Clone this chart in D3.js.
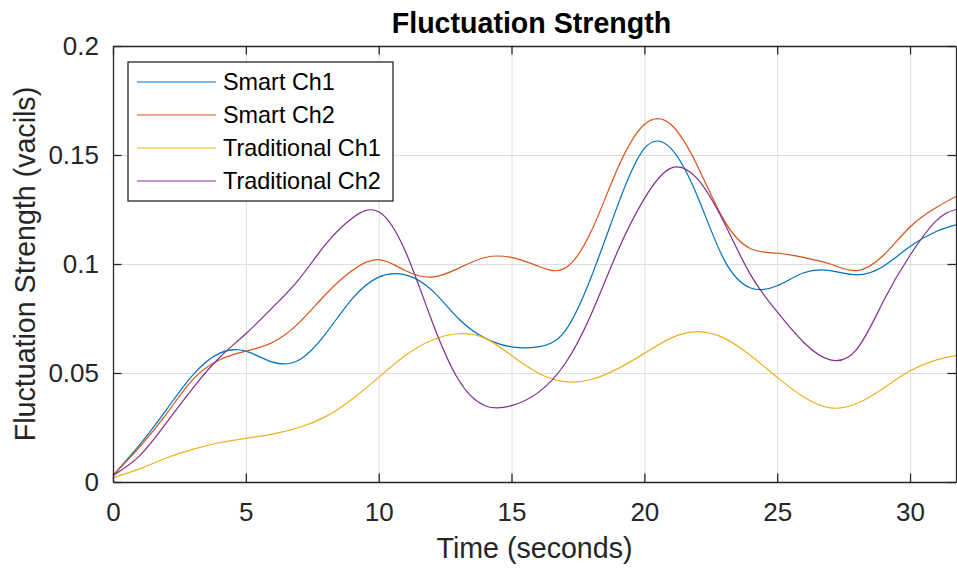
<!DOCTYPE html>
<html><head><meta charset="utf-8">
<script src="https://cdn.jsdelivr.net/npm/d3@7"></script>
<style>
body{margin:0;background:#fff;}
text{font-family:"Liberation Sans", Arial, Helvetica, sans-serif;}
</style>
</head><body>
<svg id="chart" width="957" height="571"></svg>
<script>
// ---- data ----
const time = [0,1,2,3,4,5,6,7,8,9,10,11,12,13,14,15,16,17,18,19,20,21,22,23,24,25,26,27,28,29,30,31,31.73];
const smartCh1 = [0.003,0.017,0.033,0.049,0.059,0.060,0.055,0.056,0.068,0.084,0.094,0.095,0.088,0.075,0.066,0.062,0.062,0.069,0.094,0.127,0.153,0.153,0.131,0.102,0.089,0.090,0.096,0.097,0.095,0.099,0.108,0.115,0.118];
const smartCh2 = [0.003,0.016,0.031,0.047,0.056,0.060,0.064,0.073,0.086,0.097,0.102,0.097,0.094,0.098,0.103,0.103,0.099,0.098,0.115,0.144,0.164,0.164,0.145,0.120,0.107,0.105,0.103,0.100,0.097,0.104,0.117,0.126,0.131];
const tradCh1  = [0.002,0.006,0.011,0.015,0.018,0.020,0.022,0.025,0.030,0.038,0.048,0.058,0.065,0.068,0.066,0.058,0.050,0.046,0.047,0.052,0.059,0.066,0.069,0.066,0.058,0.048,0.039,0.034,0.036,0.043,0.051,0.056,0.058];
const tradCh2  = [0.003,0.012,0.027,0.043,0.057,0.068,0.080,0.093,0.109,0.121,0.124,0.106,0.074,0.047,0.035,0.035,0.041,0.054,0.077,0.106,0.130,0.144,0.139,0.119,0.095,0.078,0.064,0.056,0.061,0.083,0.104,0.120,0.125];
const seriesNames = ["Smart Ch1","Smart Ch2","Traditional Ch1","Traditional Ch2"];
const seriesColors = ["#0072BD","#D95319","#EDB120","#7E2F8E"];
const xTicks = [0,5,10,15,20,25,30];
const yTicks = [0,0.05,0.1,0.15,0.2];
const yTickLabels = ["0","0.05","0.1","0.15","0.2"];
const titleText = "Fluctuation Strength";
const xLabel = "Time (seconds)";
const yLabel = "Fluctuation Strength (vacils)";

// ---- layout ----
const L = 113, R = 956, T = 46, B = 482;
const svg = d3.select("#chart");
const x = d3.scaleLinear().domain([0, 31.73]).range([L, R]);
const y = d3.scaleLinear().domain([0, 0.2]).range([B, T]);
const axisColor = "#262626";

svg.append("rect").attr("x",L).attr("y",T).attr("width",R-L).attr("height",B-T).attr("fill","#fff");

// grid
const gx = svg.append("g").attr("transform",`translate(0,${B})`)
  .call(d3.axisBottom(x).tickValues(xTicks).tickSize(-(B-T)).tickFormat(""));
gx.select(".domain").remove();
gx.selectAll("line").attr("stroke","#dedede").attr("stroke-width",1);
const gy = svg.append("g").attr("transform",`translate(${L},0)`)
  .call(d3.axisLeft(y).tickValues(yTicks).tickSize(-(R-L)).tickFormat(""));
gy.select(".domain").remove();
gy.selectAll("line").attr("stroke","#dedede").attr("stroke-width",1);

// lines
svg.append("clipPath").attr("id","clip").append("rect")
  .attr("x",L).attr("y",T).attr("width",R-L).attr("height",B-T);
const allSeries = [smartCh1, smartCh2, tradCh1, tradCh2];
const line = d3.line().x((d,i)=>x(time[i])).y(d=>y(d)).curve(d3.curveNatural);
svg.append("g").attr("clip-path","url(#clip)")
  .selectAll("path").data(allSeries).join("path")
  .attr("d", line).attr("fill","none")
  .attr("stroke",(d,i)=>seriesColors[i]).attr("stroke-width",1.2);

// axes
function styleAxis(g){
  g.selectAll(".domain").attr("stroke",axisColor).attr("stroke-width",1.3);
  g.selectAll(".tick line").attr("stroke",axisColor).attr("stroke-width",1.3);
  g.selectAll("text").attr("fill",axisColor).style("font-size","26px")
    .style("font-family","'Liberation Sans', Arial, Helvetica, sans-serif");
}
const tk = 8.5;
svg.append("g").attr("transform",`translate(0,${B})`)
  .call(d3.axisBottom(x).tickValues(xTicks).tickSize(-tk).tickSizeOuter(0).tickPadding(21).tickFormat(d3.format("d")))
  .call(styleAxis);
svg.append("g").attr("transform",`translate(0,${T})`)
  .call(d3.axisTop(x).tickValues(xTicks).tickSize(-tk).tickSizeOuter(0).tickFormat(""))
  .call(styleAxis);
svg.append("g").attr("transform",`translate(${L},0)`)
  .call(d3.axisLeft(y).tickValues(yTicks).tickSize(-tk).tickSizeOuter(0).tickPadding(14)
    .tickFormat((d,i)=>yTickLabels[i]))
  .call(styleAxis);
svg.append("g").attr("transform",`translate(${R},0)`)
  .call(d3.axisRight(y).tickValues(yTicks).tickSize(-tk).tickSizeOuter(0).tickFormat(""))
  .call(styleAxis);

// title & labels
svg.append("text").attr("x",(L+R)/2 - 3).attr("y",33).attr("text-anchor","middle")
  .attr("fill","#000").style("font-size","28.6px").style("font-weight","bold").text(titleText);
svg.append("text").attr("x",(L+R)/2).attr("y",558).attr("text-anchor","middle")
  .attr("fill",axisColor).style("font-size","28.6px").text(xLabel);
svg.append("text").attr("transform",`translate(35,${(T+B)/2}) rotate(-90)`).attr("text-anchor","middle")
  .attr("fill",axisColor).style("font-size","28.6px").text(yLabel);

// legend
const lg = svg.append("g");
lg.append("rect").attr("x",128).attr("y",62).attr("width",265).attr("height",139)
  .attr("fill","#fff").attr("stroke",axisColor).attr("stroke-width",1.3);
const rows = lg.selectAll("g.row").data(seriesNames).join("g").attr("class","row")
  .attr("transform",(d,i)=>`translate(0,${82 + i*33})`);
rows.append("line").attr("x1",137).attr("x2",216).attr("y1",0).attr("y2",0)
  .attr("stroke",(d,i)=>seriesColors[i]).attr("stroke-width",1.2);
rows.append("text").attr("x",223).attr("y",0).attr("dy","0.35em")
  .attr("fill","#000").style("font-size","23.4px").text(d=>d);
</script>
</body></html>
